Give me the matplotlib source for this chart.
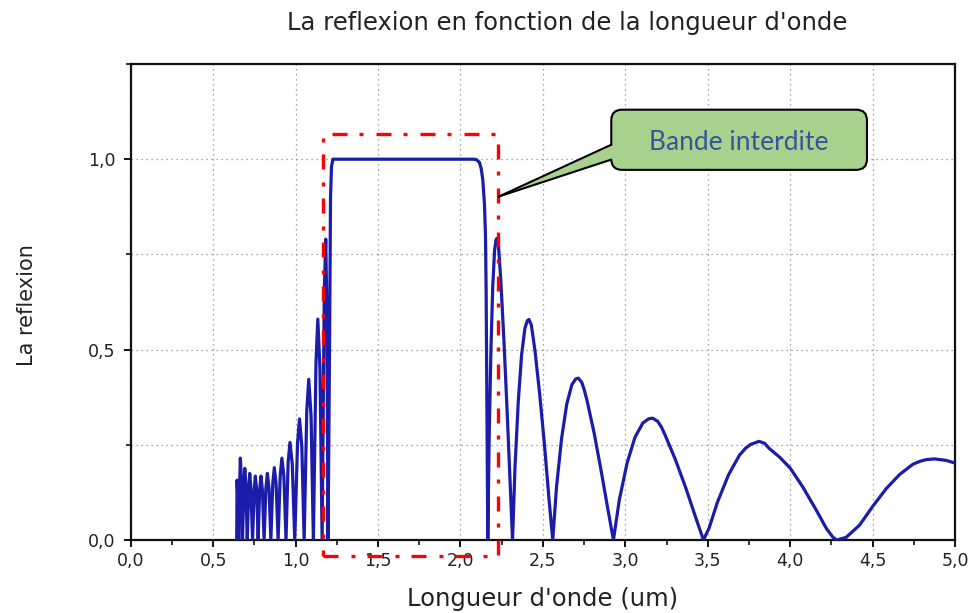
import matplotlib
matplotlib.use("Agg")
import matplotlib.pyplot as plt
from matplotlib.patches import FancyBboxPatch, Polygon, Rectangle
from matplotlib.ticker import MultipleLocator, FuncFormatter

plt.rcParams['font.family'] = ['DejaVu Sans']

# ---- data ----
wavelength_um = [
    0.643, 0.645, 0.649, 0.655,
    0.661, 0.665, 0.670, 0.678,
    0.687, 0.692, 0.698, 0.707,
    0.716, 0.722, 0.729, 0.739,
    0.749, 0.756, 0.764, 0.773,
    0.782, 0.790, 0.799, 0.809,
    0.820, 0.829, 0.839, 0.850,
    0.862, 0.871, 0.882, 0.894,
    0.907, 0.917, 0.929, 0.942,
    0.955, 0.966, 0.980, 0.995,
    1.012, 1.024, 1.038, 1.052,
    1.068, 1.080, 1.094, 1.108,
    1.124, 1.135, 1.148, 1.161,
    1.174, 1.183, 1.190, 1.197,
    1.206, 1.212, 1.218, 1.226,
    1.300, 1.600, 1.900, 2.080, 2.096, 2.115, 2.126, 2.136, 2.146, 2.152,
    2.156, 2.160, 2.164, 2.166,
    2.174, 2.185, 2.196, 2.207, 2.216, 2.221, 2.231, 2.245, 2.264, 2.283, 2.302, 2.316,
    2.331, 2.351, 2.371, 2.391, 2.406, 2.416, 2.430, 2.452, 2.481, 2.510, 2.538, 2.560,
    2.583, 2.614, 2.645, 2.676, 2.700, 2.715, 2.736, 2.752, 2.768, 2.811, 2.853, 2.896, 2.928,
    2.964, 3.011, 3.058, 3.106, 3.141, 3.165, 3.196, 3.220, 3.242, 3.304, 3.366, 3.428, 3.474,
    3.508, 3.558, 3.626, 3.693, 3.730, 3.760, 3.811, 3.845, 3.874, 3.935, 4.000, 4.077, 4.159,
    4.220, 4.260, 4.283,
    4.340, 4.421, 4.502, 4.583, 4.664, 4.745, 4.790, 4.826, 4.877, 4.947, 5.000,
]
reflexion = [
    0.000, 0.157, 0.120, 0.000,
    0.150, 0.215, 0.170, 0.000,
    0.150, 0.188, 0.150, 0.000,
    0.135, 0.175, 0.135, 0.000,
    0.130, 0.168, 0.130, 0.000,
    0.130, 0.168, 0.130, 0.000,
    0.135, 0.175, 0.135, 0.000,
    0.150, 0.190, 0.148, 0.000,
    0.170, 0.215, 0.168, 0.000,
    0.205, 0.256, 0.200, 0.000,
    0.255, 0.318, 0.245, 0.000,
    0.340, 0.422, 0.325, 0.000,
    0.470, 0.580, 0.450, 0.000,
    0.650, 0.790, 0.600, 0.000,
    0.500, 0.900, 0.980, 1.000,
    1.000, 1.000, 1.000, 1.000, 0.999, 0.992, 0.975, 0.945, 0.880, 0.800,
    0.650, 0.400, 0.150, 0.000,
    0.261, 0.499, 0.665, 0.760, 0.788, 0.792, 0.772, 0.681, 0.523, 0.341, 0.143, 0.000,
    0.191, 0.365, 0.486, 0.556, 0.576, 0.579, 0.565, 0.498, 0.382, 0.249, 0.104, 0.000,
    0.140, 0.268, 0.357, 0.408, 0.423, 0.425, 0.414, 0.393, 0.366, 0.281, 0.183, 0.077, 0.000,
    0.106, 0.202, 0.269, 0.307, 0.318, 0.320, 0.312, 0.296, 0.275, 0.211, 0.138, 0.058, 0.000,
    0.031, 0.098, 0.171, 0.223, 0.241, 0.251, 0.259, 0.254, 0.240, 0.218, 0.189, 0.139, 0.078,
    0.030, 0.007, 0.000,
    0.007, 0.039, 0.089, 0.135, 0.172, 0.199, 0.207, 0.211, 0.213, 0.209, 0.202,
]

title_text = "La reflexion en fonction de la longueur d'onde"
xlabel_text = "Longueur d'onde (um)"
ylabel_text = "La reflexion"
callout_text = "Bande interdite"

# band-gap highlight box (data units) and callout geometry
band_x = (1.167, 2.227)
band_y = (-0.042, 1.067)
callout_box = (2.915, 0.972, 4.466, 1.130)
callout_tip = (2.233, 0.902)
callout_base_y = (1.038, 0.999)

XMAX, YMAX = 5.0, 1.25

fig = plt.figure(figsize=(9.74, 6.13), dpi=100)
ax = fig.add_axes([0.1342, 0.1191, 0.8463, 0.7765])

ax.plot(wavelength_um, reflexion, color='#1c1cab', lw=2.3,
        solid_joinstyle='round', solid_capstyle='round', zorder=3)

ax.set_xlim(0, XMAX)
ax.set_ylim(0, YMAX)
ax.xaxis.set_major_locator(MultipleLocator(0.5))
ax.xaxis.set_minor_locator(MultipleLocator(0.25))
ax.yaxis.set_major_locator(MultipleLocator(0.5))
ax.yaxis.set_minor_locator(MultipleLocator(0.25))
fmt = FuncFormatter(lambda v, p: f"{v:.1f}".replace('.', ','))
ax.xaxis.set_major_formatter(fmt)
ax.yaxis.set_major_formatter(fmt)

ax.grid(which='major', axis='x', linestyle=(0, (1, 3)), color='#8a8a8a', lw=0.9)
ax.grid(which='both', axis='y', linestyle=(0, (1, 3)), color='#8a8a8a', lw=0.9)
ax.set_axisbelow(True)

for s in ax.spines.values():
    s.set_linewidth(1.6)
    s.set_color('#111111')
ax.tick_params(which='major', direction='out', length=5, width=1.4, labelsize=12.5,
               pad=4, colors='#111111', labelcolor='#222222')
ax.tick_params(which='minor', direction='out', length=3.5, width=1.2, colors='#111111')
ax.tick_params(axis='y', which='major', pad=6)

ax.set_xlabel(xlabel_text, fontsize=17.5, color='#222222')
ax.xaxis.label.set_va('baseline')
ax.xaxis.set_label_coords(0.5, -0.1387)
ax.set_ylabel(ylabel_text, fontsize=15, color='#222222')
ax.yaxis.label.set_va('baseline')
ax.yaxis.set_label_coords(-0.118, 0.4937)

fig.text(567 / 974, 0.951, title_text, fontsize=17.5, ha='center', va='baseline',
         color='#222222')

# red dash-dot rectangle around the band gap
rect = Rectangle((band_x[0], band_y[0]), band_x[1] - band_x[0], band_y[1] - band_y[0],
                 fill=False, ec='#ff0000', lw=2.4, ls=(0, (4.5, 3.9, 1.2, 3.6)),
                 clip_on=False, zorder=5)
ax.add_patch(rect)

# callout
bb = ax.get_window_extent()
asp = (YMAX / bb.height) / (XMAX / bb.width)
x0, y0, x1, y1 = callout_box
green = '#a9d18e'
box = FancyBboxPatch((x0, y0), x1 - x0, y1 - y0,
                     boxstyle="round,pad=0,rounding_size=0.065", mutation_aspect=asp,
                     fc=green, ec='black', lw=1.5, zorder=6, clip_on=False)
ax.add_patch(box)
tail = Polygon([(x0 + 0.015, callout_base_y[0]), callout_tip, (x0 + 0.015, callout_base_y[1])],
               closed=True, fc=green, ec='none', zorder=7, clip_on=False)
ax.add_patch(tail)
for by in callout_base_y:
    ax.plot([x0, callout_tip[0]], [by, callout_tip[1]], color='black', lw=1.5,
            zorder=7, clip_on=False, solid_capstyle='round')
ax.text((x0 + x1) / 2, 1.023, callout_text, fontsize=19,
        family=['Lato', 'DejaVu Sans'], color='#34559c', ha='center', va='baseline', zorder=8)

fig.savefig('out.png', dpi=100)
